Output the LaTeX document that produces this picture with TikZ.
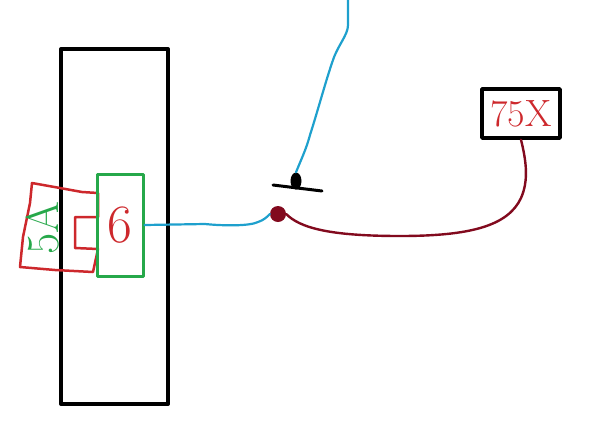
\documentclass[tikz,border=0pt]{standalone}
\usetikzlibrary{arrows.meta,positioning,shapes.geometric}
\definecolor{pgreen}{RGB}{38,168,74}
\definecolor{pred}{RGB}{205,40,44}
\definecolor{pblue}{RGB}{30,160,205}
\definecolor{pmaroon}{RGB}{130,10,30}
\begin{document}
\begin{tikzpicture}[x=1pt,y=-1pt,line cap=round,line join=round,
  frame/.style={draw=black,line width=4pt,minimum width=107pt,minimum height=355pt,inner sep=0pt},
  tag/.style={draw=pgreen,line width=3pt,minimum width=46pt,minimum height=102pt,inner sep=0pt,text=pred,font=\fontsize{54}{54}\selectfont},
  label/.style={draw=black,line width=3.5pt,minimum width=78pt,minimum height=49pt,inner sep=0pt,text=pred,font=\fontsize{38}{38}\selectfont},
  wire/.style={draw=pblue,line width=2.2pt},
  lead/.style={draw=pmaroon,line width=2.4pt}]
\useasboundingbox (0,0) rectangle (593,421);
\node[frame] (case) at (114.5,226.5) {};
% red outline behind the tag
\draw[pred,line width=2.5pt] (32,183) -- (60,188) -- (82,192) -- (98,193) -- (98,217) -- (75,217) -- (75,248) -- (98,249) -- (93,272) -- (55,270) -- (20,267) -- (23,237) -- (30,203) -- cycle;
\node[rotate=90,text=pgreen,font=\fontsize{46}{46}\selectfont] (code) at (43,228) {5A};
\node[tag] (pin) at (120,225) {6};
\node[label] (out) at (521,113.5) {75X};
\node[circle,fill=pmaroon,inner sep=0pt,minimum size=16pt] (joint) at (278,214) {};
\node[ellipse,fill=black,inner sep=0pt,minimum width=11pt,minimum height=17pt] (tap) at (296,181) {};
\coordinate (top) at (348,0);
\coordinate (barl) at (273,185);
\coordinate (barr) at (322,191);
\draw[black,line width=3pt] (barl) -- (barr);
\draw[wire] (pin.east) -- (205,224) .. controls (225,226) and (250,226) .. (258,222) .. controls (264,220) and (267,217) .. (joint.west);
\draw[wire] (top) -- (348,25) .. controls (348,35) and (338,45) .. (333,60) .. controls (326,80) and (318,110) .. (310,135) .. controls (306,150) and (300,162) .. (tap.north);
\draw[lead] (joint.east) .. controls (300,228) and (330,236) .. (400,236) .. controls (470,236) and (508,226) .. (521,198) .. controls (529,180) and (526,160) .. (out.south);
\end{tikzpicture}
\end{document}
